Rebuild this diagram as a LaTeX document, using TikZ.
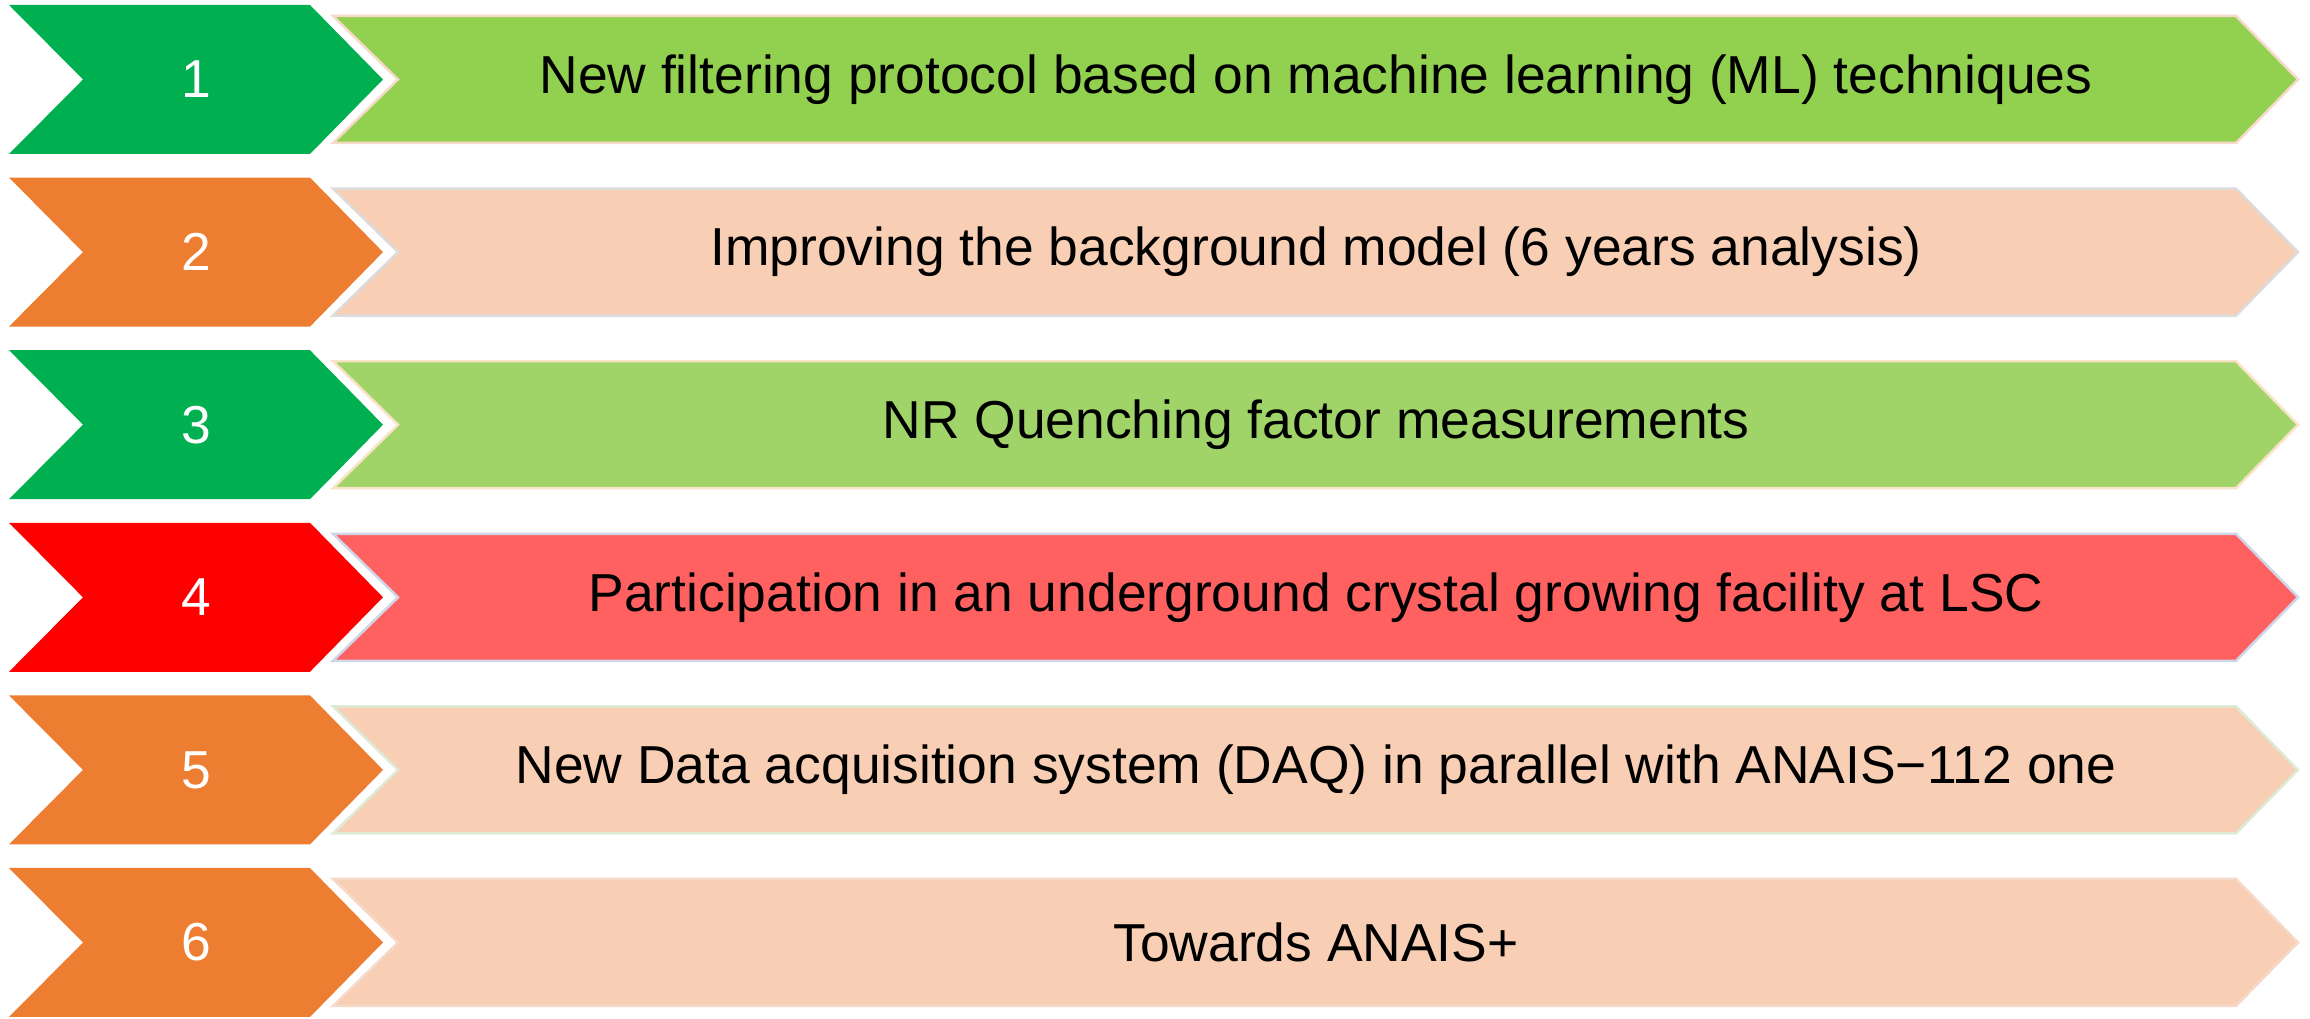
\documentclass[tikz,border=0pt]{standalone}
\usepackage{fontspec}
\setmainfont{Liberation Sans}

\definecolor{stepgreen}{HTML}{00B050}
\definecolor{stepred}{HTML}{FF0000}
\definecolor{steporange}{HTML}{ED7D31}
\definecolor{barlime}{HTML}{92D050}
\definecolor{barlimesoft}{HTML}{A0D468}
\definecolor{barpeach}{HTML}{F8CFB4}
\definecolor{barred}{HTML}{FF6161}
\definecolor{rimpeach}{HTML}{F6D9C8}
\definecolor{rimgrey}{HTML}{DCDCDC}
\definecolor{rimcream}{HTML}{F9E3C6}
\definecolor{rimblue}{HTML}{CFD5E8}
\definecolor{rimmint}{HTML}{DDEBD6}

\tikzset{
  chev/.style={fill=#1, draw=none},
  bar/.style={fill=#1},
  numlabel/.style={text=white, font=\fontsize{15.2}{18}\selectfont, inner sep=0pt},
  barlabel/.style={text=black, font=\fontsize{15.2}{18}\selectfont, inner sep=0pt}
}

\begin{document}
\begin{tikzpicture}[x=0.1mm, y=-0.1mm]
  \useasboundingbox (0,0) rectangle (2310,1019);
  \foreach \i/\dark/\light/\rim/\txt in {
      1/stepgreen/barlime/rimpeach/{New filtering protocol based on machine learning (ML) techniques},
      2/steporange/barpeach/rimgrey/{Improving the background model (6 years analysis)},
      3/stepgreen/barlimesoft/rimcream/{NR Quenching factor measurements},
      4/stepred/barred/rimblue/{Participation in an underground crystal growing facility at LSC},
      5/steporange/barpeach/rimmint/{New Data acquisition system (DAQ) in parallel with ANAIS−112 one},
      6/steporange/barpeach/rimpeach/{Towards ANAIS+}} {
    \pgfmathsetmacro{\c}{79.5+172.6*(\i-1)}
    % long arrow with notched tail
    \path[bar=\light, draw=\rim, line width=0.25mm]
      (333,\c-63.5) -- (2236,\c-63.5) -- (2298,\c) -- (2236,\c+63.5)
      -- (333,\c+63.5) -- (398,\c) -- cycle;
    % numbered chevron
    \path[chev=\dark]
      (9,\c-74.5) -- (310,\c-74.5) -- (383,\c) -- (310,\c+74.5)
      -- (9,\c+74.5) -- (83,\c) -- cycle;
    \node[numlabel] (num\i) at (196,\c) {\i};
    \node[barlabel] (lbl\i) at (1316,\c) {\txt};
  }
\end{tikzpicture}
\end{document}
